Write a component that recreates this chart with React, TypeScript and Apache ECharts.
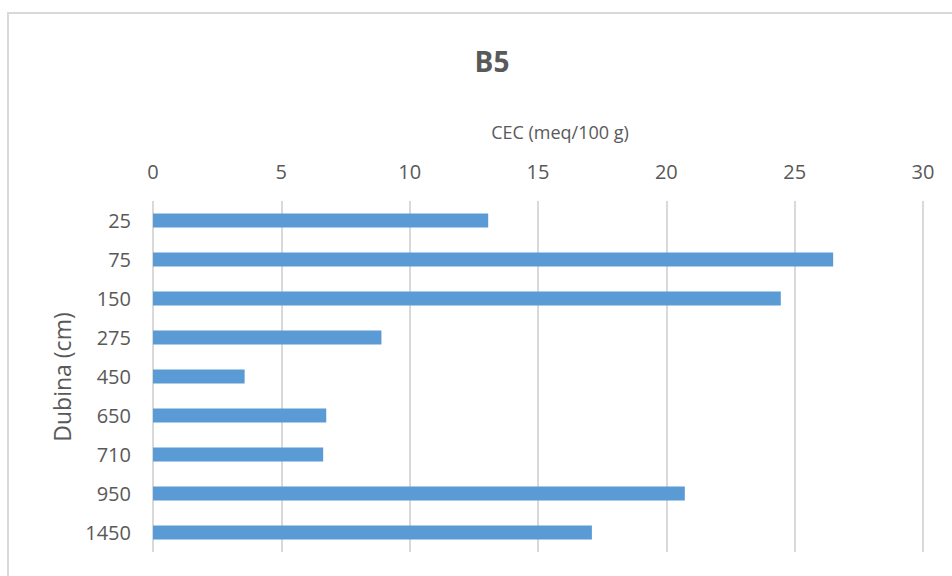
import React, { useEffect, useRef } from "react";
import * as echarts from "echarts";

const categories = ["25", "75", "150", "275", "450", "650", "710", "950", "1450"];
const cecValues = [13.06, 26.5, 24.46, 8.9, 3.57, 6.75, 6.63, 20.72, 17.1];
const xTicks = { min: 0, max: 30, interval: 5 };
const titleText = "B5";
const xAxisName = "CEC (meq/100 g)";
const yAxisName = "Dubina (cm)";

const FONT = "'Open Sans', 'Noto Sans', sans-serif";
const TEXT = "#595959";

export default function App() {
  const ref = useRef<HTMLDivElement>(null);
  useEffect(() => {
    if (!ref.current) return;
    const chart = echarts.init(ref.current, undefined, { renderer: "svg" });
    chart.setOption({
      animation: false,
      backgroundColor: "#ffffff",
      textStyle: { fontFamily: FONT },
      title: {
        text: titleText,
        left: 487,
        top: 42,
        textAlign: "center",
        textStyle: { fontSize: 28, fontWeight: "bold", color: TEXT, fontFamily: FONT },
      },
      graphic: [
        {
          type: "rect",
          shape: { x: 8, y: 13, width: 1000, height: 700 },
          style: { fill: "none", stroke: "#d9d9d9", lineWidth: 2 },
          silent: true,
        },
        {
          type: "text",
          x: 62,
          y: 377,
          rotation: Math.PI / 2,
          style: {
            text: yAxisName,
            fill: TEXT,
            fontSize: 23,
            fontFamily: FONT,
            align: "center",
            verticalAlign: "middle",
          },
        },
        {
          type: "text",
          x: 560,
          y: 132,
          style: {
            text: xAxisName,
            fill: TEXT,
            fontSize: 18,
            fontFamily: FONT,
            align: "center",
            verticalAlign: "middle",
          },
        },
      ],
      grid: { left: 153, right: 29, top: 201, bottom: 24, containLabel: false },
      xAxis: {
        type: "value",
        position: "top",
        min: xTicks.min,
        max: xTicks.max,
        interval: xTicks.interval,
        axisLine: { show: false },
        axisTick: { show: false },
        axisLabel: { fontSize: 20, color: TEXT, margin: 20, fontFamily: FONT },
        splitLine: { show: true, lineStyle: { color: "#d9d9d9", width: 2 } },
      },
      yAxis: {
        type: "category",
        inverse: true,
        data: categories,
        axisLine: { show: false },
        axisTick: { show: false },
        axisLabel: { fontSize: 20, color: TEXT, margin: 22, fontFamily: FONT },
        splitLine: { show: false },
      },
      series: [
        {
          type: "bar",
          data: cecValues,
          barWidth: 14,
          itemStyle: { color: "#5b9bd5" },
        },
      ],
    });
    return () => chart.dispose();
  }, []);
  return (
    <div
      ref={ref}
      style={{ position: "absolute", left: 0, top: 0, width: 952, height: 576 }}
    />
  );
}
